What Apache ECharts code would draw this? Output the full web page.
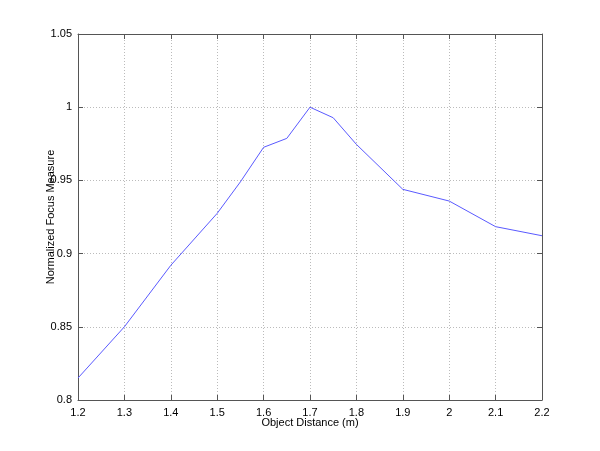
<!DOCTYPE html>
<html><head><meta charset="utf-8">
<script src="https://cdn.jsdelivr.net/npm/echarts@6/dist/echarts.min.js"></script>
<style>html,body{margin:0;padding:0;background:#fff}#c{width:600px;height:451px}</style>
</head><body><div id="c"></div>
<script>
const distances = [1.2, 1.3, 1.4, 1.5, 1.55, 1.6, 1.65, 1.7, 1.75, 1.8, 1.9, 2.0, 2.1, 2.2];
const focus = [0.815, 0.850, 0.892, 0.9275, 0.949, 0.9726, 0.9787, 1.000, 0.9928, 0.9746, 0.9439, 0.9359, 0.9184, 0.9122];
const xTicks = [1.2, 1.3, 1.4, 1.5, 1.6, 1.7, 1.8, 1.9, 2, 2.1, 2.2];
const yTicks = [0.8, 0.85, 0.9, 0.95, 1, 1.05];

const font = 'Liberation Sans, Arial, sans-serif';
const axisLine = {show: true, lineStyle: {color: '#555', width: 1}};
const tick = {show: true, inside: true, length: 5, lineStyle: {color: '#555'}};
const grid = {show: true, lineStyle: {color: '#bbb', type: [1, 2], width: 1}};
const fmt = v => String(Math.round(v * 100) / 100);

const chart = echarts.init(document.getElementById('c'), null, {renderer: 'canvas'});
chart.setOption({
  animation: false,
  backgroundColor: '#fff',
  grid: {left: 78, right: 58, top: 34, bottom: 51, show: false},
  xAxis: [{
    type: 'value', min: 1.2, max: 2.2, interval: 0.1,
    name: 'Object Distance (m)', nameLocation: 'middle', nameGap: 17, nameMoveOverlap: false,
    nameTextStyle: {color: '#000', fontSize: 11, fontFamily: font, verticalAlign: 'top'},
    axisLine: axisLine, axisTick: tick, splitLine: grid,
    axisLabel: {color: '#000', fontSize: 11, fontFamily: font, margin: 7, formatter: fmt}
  }, {
    type: 'value', min: 1.2, max: 2.2, interval: 0.1, position: 'top',
    axisLine: axisLine, axisTick: tick, splitLine: {show: false}, axisLabel: {show: false}
  }],
  yAxis: [{
    type: 'value', min: 0.8, max: 1.05, interval: 0.05,
    name: 'Normalized Focus Measure', nameLocation: 'middle', nameGap: 22, nameRotate: 90, nameMoveOverlap: false,
    nameTextStyle: {color: '#000', fontSize: 11, fontFamily: font},
    axisLine: axisLine, axisTick: tick, splitLine: grid,
    axisLabel: {color: '#000', fontSize: 11, fontFamily: font, margin: 6, formatter: fmt}
  }, {
    type: 'value', min: 0.8, max: 1.05, interval: 0.05, position: 'right',
    axisLine: axisLine, axisTick: tick, splitLine: {show: false}, axisLabel: {show: false}
  }],
  series: [{
    type: 'line', xAxisIndex: 0, yAxisIndex: 0,
    data: distances.map((d, i) => [d, focus[i]]),
    showSymbol: false, symbol: 'none',
    lineStyle: {color: '#5a5aff', width: 1},
    silent: true
  }]
});
</script></body></html>
